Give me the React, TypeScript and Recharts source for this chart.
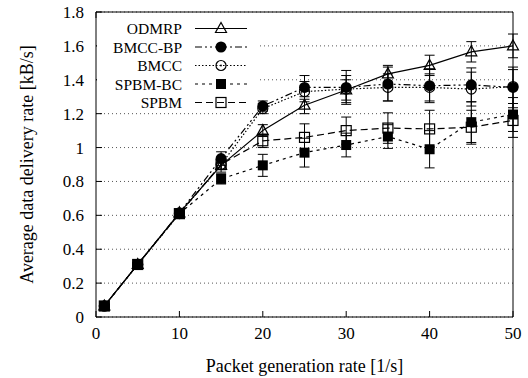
import { LineChart, Line, XAxis, YAxis, CartesianGrid, ErrorBar, Legend } from 'recharts';

const rates = [1, 5, 10, 15, 20, 25, 30, 35, 40, 45, 50];

const odmrp = [0.065, 0.31, 0.615, 0.895, 1.1, 1.25, 1.34, 1.435, 1.485, 1.565, 1.6];
const odmrpErr = [0.005, 0.01, 0.02, 0.04, 0.035, 0.05, 0.06, 0.05, 0.06, 0.06, 0.07];
const bmccBp = [0.065, 0.31, 0.615, 0.935, 1.245, 1.355, 1.355, 1.375, 1.365, 1.37, 1.355];
const bmccBpErr = [0.005, 0.01, 0.02, 0.04, 0.03, 0.07, 0.1, 0.1, 0.1, 0.1, 0.12];
const bmcc = [0.065, 0.31, 0.61, 0.9, 1.23, 1.33, 1.345, 1.355, 1.355, 1.345, 1.36];
const bmccErr = [0.005, 0.01, 0.02, 0.03, 0.03, 0.06, 0.08, 0.08, 0.08, 0.1, 0.1];
const spbmBc = [0.065, 0.31, 0.61, 0.815, 0.895, 0.97, 1.015, 1.065, 0.99, 1.15, 1.195];
const spbmBcErr = [0.005, 0.01, 0.02, 0.03, 0.065, 0.085, 0.07, 0.07, 0.11, 0.12, 0.1];
const spbm = [0.065, 0.31, 0.61, 0.9, 1.04, 1.06, 1.1, 1.115, 1.11, 1.12, 1.16];
const spbmErr = [0.005, 0.01, 0.02, 0.03, 0.04, 0.08, 0.08, 0.09, 0.11, 0.1, 0.1];

const xTicks = [0, 10, 20, 30, 40, 50];
const yTicks = [0, 0.2, 0.4, 0.6, 0.8, 1, 1.2, 1.4, 1.6, 1.8];

const data = rates.map((r, i) => ({
  rate: r,
  odmrp: odmrp[i], odmrpErr: odmrpErr[i],
  bmccBp: bmccBp[i], bmccBpErr: bmccBpErr[i],
  bmcc: bmcc[i], bmccErr: bmccErr[i],
  spbmBc: spbmBc[i], spbmBcErr: spbmBcErr[i],
  spbm: spbm[i], spbmErr: spbmErr[i],
}));

const FONT = "'Liberation Serif', serif";
const tickStyle = { fontFamily: FONT, fontSize: 17 };
const labelStyle = { fontFamily: FONT, fontSize: 18 };
const legendStyle = { fontFamily: FONT, fontSize: 15.5 };

type Mark = 'tri' | 'dot' | 'ring' | 'sq' | 'box';

function marker(kind: Mark, cx: number, cy: number, key?: any) {
  if (cx == null || cy == null) return <g key={key} />;
  switch (kind) {
    case 'tri':
      return <polygon key={key} points={`${cx},${cy - 6} ${cx - 5.5},${cy + 4} ${cx + 5.5},${cy + 4}`} fill="none" stroke="#000" strokeWidth={1.2} />;
    case 'dot':
      return <circle key={key} cx={cx} cy={cy} r={5.5} fill="#000" />;
    case 'ring':
      return (
        <g key={key}>
          <circle cx={cx} cy={cy} r={5} fill="none" stroke="#000" strokeWidth={1.2} />
          <circle cx={cx} cy={cy} r={0.9} fill="#000" />
        </g>
      );
    case 'sq':
      return <rect key={key} x={cx - 5} y={cy - 5} width={10} height={10} fill="#000" />;
    default:
      return <rect key={key} x={cx - 5} y={cy - 5} width={10} height={10} fill="none" stroke="#000" strokeWidth={1.2} />;
  }
}

const series = [
  { key: 'odmrp', name: 'ODMRP', dash: undefined, mark: 'tri' as Mark },
  { key: 'bmccBp', name: 'BMCC-BP', dash: '7 3 2 3 2 3', mark: 'dot' as Mark },
  { key: 'bmcc', name: 'BMCC', dash: '1.5 2', mark: 'ring' as Mark },
  { key: 'spbmBc', name: 'SPBM-BC', dash: '3 4', mark: 'sq' as Mark },
  { key: 'spbm', name: 'SPBM', dash: '7 4', mark: 'box' as Mark },
];

function LegendBox() {
  return (
    <svg width={160} height={93} style={{ display: 'block' }}>
      <rect x={0} y={0} width={160} height={93} fill="#fff" />
      {series.map((s, i) => {
        const y = 10.5 + i * 18.5;
        return (
          <g key={s.key}>
            <text x={85} y={y} textAnchor="end" dominantBaseline="central" style={legendStyle} fill="#000">
              {s.name}
            </text>
            <line x1={98} x2={150} y1={y} y2={y} stroke="#000" strokeWidth={1.2} strokeDasharray={s.dash} />
            {marker(s.mark, 124, y)}
          </g>
        );
      })}
    </svg>
  );
}

const noTick = () => <g />;

export default function App() {
  return (
    <div style={{ position: 'absolute', left: 0, top: 0, background: '#fff', fontFamily: FONT }}>
      <LineChart width={528} height={378} data={data} margin={{ top: 12, right: 15, left: 0, bottom: 0 }} style={{ fontFamily: FONT }}>
        <CartesianGrid vertical={false} stroke="#555" strokeDasharray="1 3" />
        <XAxis
          dataKey="rate"
          type="number"
          domain={[0, 50]}
          ticks={xTicks}
          height={61}
          stroke="#000"
          tickSize={-6}
          tickMargin={16}
          tick={{ fill: '#000', style: tickStyle }}
          label={{ value: 'Packet generation rate [1/s]', position: 'insideBottom', offset: 6, fill: '#000', style: labelStyle }}
        />
        <XAxis xAxisId="top" orientation="top" mirror type="number" domain={[0, 50]} ticks={xTicks} stroke="#000" tickSize={6} tick={noTick} />
        <YAxis
          type="number"
          domain={[0, 1.8]}
          ticks={yTicks}
          width={96}
          stroke="#000"
          tickSize={-6}
          tickMargin={18}
          tick={{ fill: '#000', style: tickStyle }}
          label={{ value: 'Average data delivery rate [kB/s]', angle: -90, position: 'center', dx: -21, fill: '#000', style: labelStyle }}
        />
        <YAxis yAxisId="right" orientation="right" mirror type="number" domain={[0, 1.8]} ticks={yTicks} stroke="#000" tickSize={6} tick={noTick} />
        <Legend
          layout="vertical"
          align="center"
          verticalAlign="middle"
          wrapperStyle={{ position: 'absolute', left: 97, top: 18, width: 160 }}
          content={() => <LegendBox />}
        />
        {series.map((s) => (
          <Line
            key={s.key}
            dataKey={s.key}
            name={s.name}
            stroke="#000"
            strokeWidth={1.2}
            strokeDasharray={s.dash}
            isAnimationActive={false}
            dot={(p: any) => marker(s.mark, p.cx, p.cy, p.index)}
            activeDot={false}
          >
            <ErrorBar dataKey={`${s.key}Err`} width={5} stroke="#000" strokeWidth={1} direction="y" />
          </Line>
        ))}
      </LineChart>
    </div>
  );
}
